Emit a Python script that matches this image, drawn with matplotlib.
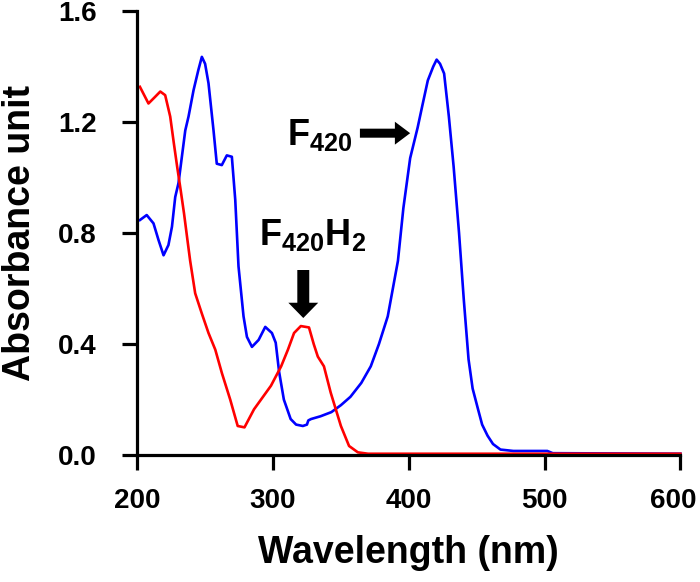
import matplotlib
matplotlib.use("Agg")
import matplotlib.pyplot as plt
import matplotlib.transforms as mtransforms
from matplotlib.patches import FancyArrowPatch, ArrowStyle

plt.rcParams['font.family'] = ['Liberation Sans', 'DejaVu Sans']
plt.rcParams['font.weight'] = 'bold'
plt.rcParams['mathtext.fontset'] = 'custom'
plt.rcParams['mathtext.rm'] = 'Liberation Sans:bold'
plt.rcParams['mathtext.default'] = 'rm'

# oxidised F420 spectrum (blue)
f420_nm = [202, 207, 212, 215.7, 219.4, 223, 225.6, 228, 230.4, 232.9, 235.4, 237.8,
           241.5, 245, 247.6, 250, 252.5, 256.2, 258.6, 262.3, 266, 269.7, 272.2,
           274.6, 278.3, 280.8, 284.5, 289.4, 294.3, 299.2, 302, 304.5, 308, 313,
           317, 322, 325, 326, 328, 335, 343, 350, 357, 365, 372, 378, 384.5, 392,
           396, 401, 406.5, 410, 414, 418, 420.5, 423, 426, 429.5, 433, 437, 440.5,
           444, 447, 451, 454, 458, 462, 467.5, 477, 502, 506, 600]
f420_abs = [0.847, 0.865, 0.835, 0.775, 0.72, 0.757, 0.823, 0.93, 0.98, 1.075, 1.17,
            1.22, 1.315, 1.387, 1.435, 1.41, 1.34, 1.17, 1.05, 1.045, 1.08, 1.075,
            0.92, 0.68, 0.50, 0.426, 0.39, 0.415, 0.462, 0.44, 0.405, 0.30, 0.20,
            0.13, 0.11, 0.105, 0.11, 0.125, 0.13, 0.14, 0.155, 0.18, 0.21, 0.26,
            0.32, 0.40, 0.50, 0.70, 0.89, 1.07, 1.18, 1.26, 1.35, 1.40, 1.425, 1.41,
            1.375, 1.22, 1.04, 0.80, 0.56, 0.345, 0.24, 0.165, 0.11, 0.07, 0.04,
            0.02, 0.015, 0.015, 0.007, 0.005]

# reduced F420H2 spectrum (red)
f420h2_nm = [202, 208.3, 213, 217, 220.6, 224.3, 227, 229.4, 232, 234.5, 237, 239,
             242.7, 247.6, 252.5, 257.5, 262.4, 268.5, 274, 279, 286, 298.5, 306,
             311, 315.5, 320.5, 326.5, 330, 333, 337.5, 342.5, 350, 356, 362.5, 370,
             600]
f420h2_abs = [1.327, 1.267, 1.29, 1.31, 1.297, 1.22, 1.123, 1.04, 0.955, 0.87,
              0.775, 0.70, 0.583, 0.51, 0.44, 0.38, 0.295, 0.20, 0.105, 0.10, 0.165,
              0.25, 0.32, 0.38, 0.44, 0.465, 0.46, 0.40, 0.355, 0.32, 0.225, 0.105,
              0.033, 0.01, 0.005, 0.005]

x_ticks = [200, 300, 400, 500, 600]
y_ticks = [0.0, 0.4, 0.8, 1.2, 1.6]
y_tick_labels = ['0.0', '0.4', '0.8', '1.2', '1.6']

fig = plt.figure(figsize=(7, 5.82), dpi=100)
ax = fig.add_axes([0.196, 0.218, 0.776, 0.763])

ax.plot(f420_nm, f420_abs, color='#0000ff', lw=1.9, clip_on=False)
ax.plot(f420h2_nm, f420h2_abs, color='#ff0000', lw=1.9, clip_on=False)

ax.set_xlim(200, 600)
ax.set_ylim(0, 1.6)
ax.set_xticks(x_ticks)
ax.set_yticks(y_ticks)
ax.set_yticklabels(y_tick_labels)

for s in ['top', 'right']:
    ax.spines[s].set_visible(False)
for s in ['left', 'bottom']:
    ax.spines[s].set_linewidth(2.3)
ax.tick_params(axis='both', length=11, width=2.3, labelsize=20)
ax.tick_params(axis='x', pad=13)
ax.tick_params(axis='y', pad=18)

# nudge the last x label left so it stays inside the figure
last = ax.get_xticklabels()[-1]
last.set_transform(last.get_transform() + mtransforms.ScaledTranslation(-5 / 72, 0, fig.dpi_scale_trans))

ax.set_xlabel('Wavelength (nm)', fontsize=27, fontweight='bold')
ax.set_ylabel('Absorbance unit', fontsize=27, fontweight='bold')
ax.xaxis.set_label_coords(0.5, -0.18)
ax.yaxis.set_label_coords(-0.183, 0.5)

# peak labels
ax.text(310, 1.117, r'F$_{420}$', fontsize=26, fontweight='bold', va='baseline')
ax.text(289.5, 0.757, r'F$_{420}$H$_2$', fontsize=26, fontweight='bold', va='baseline')

right_arrow = FancyArrowPatch((364, 1.16), (401, 1.16),
                              arrowstyle=ArrowStyle.Simple(head_length=1.1, head_width=1.65, tail_width=0.65),
                              mutation_scale=10, color='black', lw=0, shrinkA=0, shrinkB=0)
down_arrow = FancyArrowPatch((322.3, 0.667), (322.3, 0.494),
                             arrowstyle=ArrowStyle.Simple(head_length=1.1, head_width=2.15, tail_width=0.86),
                             mutation_scale=10, color='black', lw=0, shrinkA=0, shrinkB=0)
ax.add_patch(right_arrow)
ax.add_patch(down_arrow)

fig.savefig('out.png', dpi=100)
